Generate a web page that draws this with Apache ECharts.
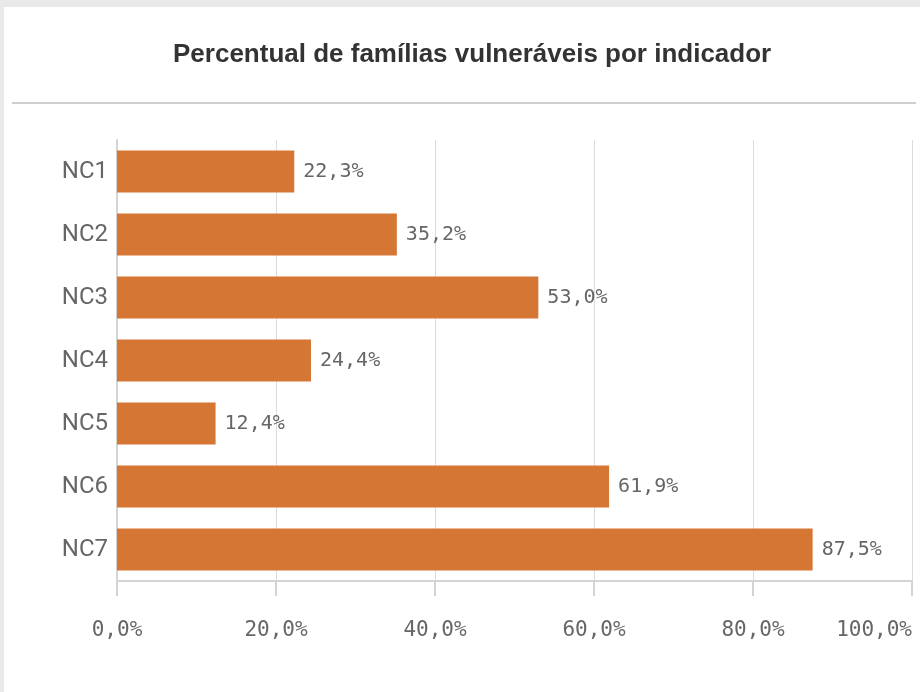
<!DOCTYPE html>
<html>
<head>
<meta charset="utf-8">
<script src="https://cdn.jsdelivr.net/npm/echarts@6/dist/echarts.min.js"></script>
<style>
  html, body { margin: 0; padding: 0; background: #e9e9e9; }
  #panel { position: absolute; left: 4px; top: 7px; width: 916px; height: 685px; background: #fff; }
  #main { position: absolute; left: 0; top: 0; width: 920px; height: 692px; }
</style>
</head>
<body>
<div id="panel"></div>
<div id="main"></div>
<script>
var categories = ["NC1", "NC2", "NC3", "NC4", "NC5", "NC6", "NC7"];
var values = [22.3, 35.2, 53.0, 24.4, 12.4, 61.9, 87.5];
var titleText = "Percentual de famílias vulneráveis por indicador";

function fmt(v) {
  return v.toFixed(1).replace(".", ",") + "%";
}

var myChart = echarts.init(document.getElementById("main"));
myChart.setOption({
  backgroundColor: "transparent",
  title: {
    text: titleText,
    left: 168,
    top: 37,
    textStyle: {
      fontFamily: "Liberation Sans",
      fontSize: 26,
      fontWeight: "bold",
      color: "#333"
    }
  },
  graphic: [
    {
      type: "line",
      shape: { x1: 12, y1: 103, x2: 916, y2: 103 },
      style: { stroke: "#cfcfcf", lineWidth: 2 }
    }
  ],
  grid: {
    left: 117,
    right: 8,
    top: 140,
    bottom: 111,
    outerBoundsMode: "none"
  },
  xAxis: {
    type: "value",
    min: 0,
    max: 100,
    interval: 20,
    axisLine: { show: true, lineStyle: { color: "#d4d4d4", width: 2 } },
    axisTick: { show: true, length: 15, lineStyle: { color: "#d4d4d4", width: 2 } },
    splitLine: { show: true, lineStyle: { color: "#dcdcdc", width: 1 } },
    axisLabel: {
      margin: 39,
      fontFamily: "DejaVu Sans Mono",
      fontSize: 21,
      color: "#666",
      alignMaxLabel: "right",
      formatter: function (v) { return fmt(v); }
    }
  },
  yAxis: {
    type: "category",
    inverse: true,
    data: categories,
    axisLine: { show: true, lineStyle: { color: "#d4d4d4", width: 2 } },
    axisTick: { show: false },
    axisLabel: {
      margin: 9,
      fontFamily: "Roboto",
      fontSize: 24,
      color: "#666"
    }
  },
  series: [
    {
      type: "bar",
      data: values,
      barCategoryGap: "33%",
      itemStyle: { color: "#d67634" },
      label: {
        show: true,
        position: "right",
        distance: 9,
        fontFamily: "DejaVu Sans Mono",
        fontSize: 20,
        color: "#666",
        formatter: function (p) { return fmt(p.value); }
      }
    }
  ]
});
</script>
</body>
</html>
